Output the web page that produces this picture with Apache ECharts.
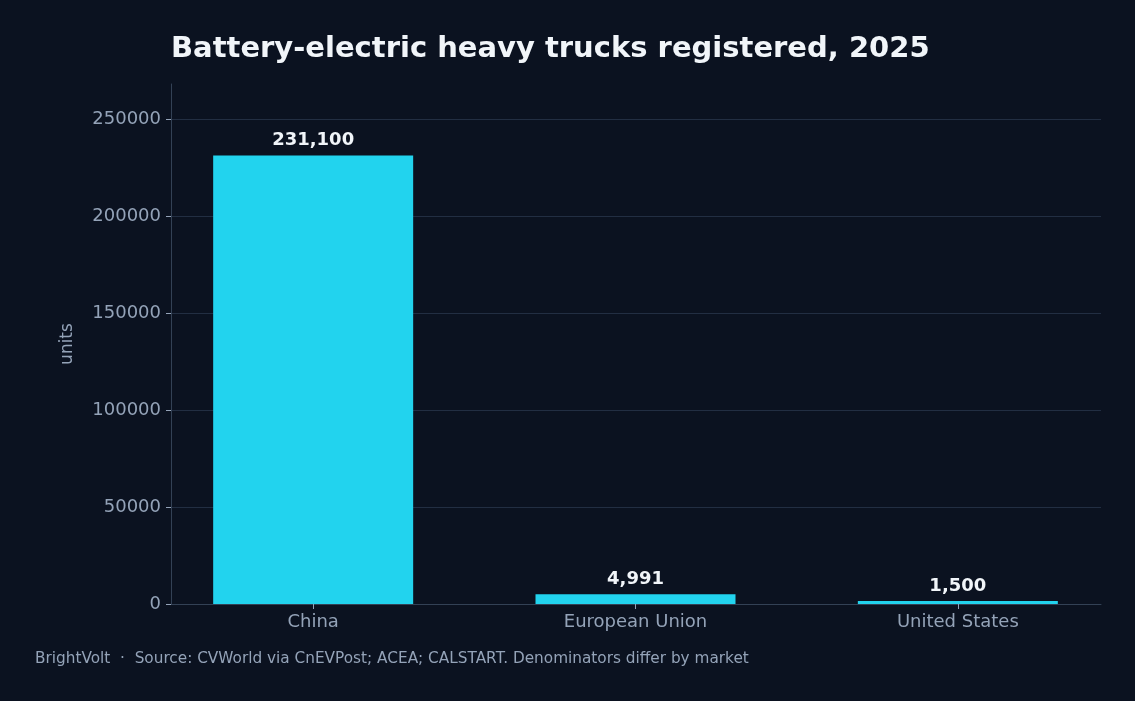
<!DOCTYPE html>
<html>
<head>
<meta charset="utf-8">
<script src="https://cdn.jsdelivr.net/npm/echarts@6/dist/echarts.min.js"></script>
<style>
html,body{margin:0;padding:0;background:#0b1220;}
#c{width:1135px;height:701px;}
</style>
</head>
<body>
<div id="c"></div>
<script>
const categories = ['China', 'European Union', 'United States'];
const values = [231100, 4991, 1500];
const yTicks = [0, 50000, 100000, 150000, 200000, 250000];
const axisMax = 268000;

const chart = echarts.init(document.getElementById('c'), null, {renderer: 'canvas'});
const font = 'DejaVu Sans';
const gridColors = yTicks.map(() => '#222e42').concat(['rgba(0,0,0,0)']);
chart.setOption({
  backgroundColor: '#0b1220',
  animation: false,
  title: {
    text: 'Battery-electric heavy trucks registered, 2025',
    left: 166, top: 30,
    textStyle: {color: '#f1f5f9', fontSize: 29, fontWeight: 'bold', fontFamily: font}
  },
  graphic: [{
    type: 'text', left: 35, top: 652,
    style: {text: 'BrightVolt  ·  Source: CVWorld via CnEVPost; ACEA; CALSTART. Denominators differ by market',
      fill: '#94a3b8', fontSize: 15.3, fontFamily: font}
  }],
  grid: [
    {left: 171, right: 34, top: 84, bottom: 97},
    {left: 152, right: 16, top: 84, bottom: 97}
  ],
  xAxis: [{
    gridIndex: 0, type: 'category', data: categories,
    axisLine: {lineStyle: {color: '#334155'}},
    axisTick: {show: false}, axisLabel: {show: false}
  }, {
    gridIndex: 1, type: 'category', data: categories,
    axisLine: {show: false},
    axisTick: {show: true, alignWithLabel: true, length: 5, lineStyle: {color: '#94a3b8'}},
    axisLabel: {color: '#94a3b8', fontSize: 18, fontFamily: font, margin: 9}
  }],
  yAxis: [{
    gridIndex: 0, type: 'value', min: 0, max: axisMax, interval: 50000,
    name: 'units', nameLocation: 'middle', nameGap: 95,
    nameTextStyle: {color: '#94a3b8', fontSize: 17, fontFamily: font},
    axisLine: {show: true, lineStyle: {color: '#334155'}},
    axisTick: {show: true, length: 5, lineStyle: {color: '#94a3b8'}},
    axisLabel: {color: '#94a3b8', fontSize: 18, fontFamily: font, margin: 10,
      showMaxLabel: false, formatter: v => String(v), padding: [2, 0, 0, 0]},
    splitLine: {show: true, lineStyle: {color: gridColors, width: 1}}
  }, {
    gridIndex: 1, type: 'value', min: 0, max: axisMax, interval: 50000,
    axisLine: {show: false}, axisTick: {show: false}, axisLabel: {show: false},
    splitLine: {show: false}
  }],
  series: [{
    type: 'bar', xAxisIndex: 1, yAxisIndex: 1, data: values, barWidth: 200,
    itemStyle: {color: '#22d3ee'},
    label: {show: true, position: 'top', distance: 6, color: '#f1f5f9', fontSize: 18,
      fontWeight: 'bold', fontFamily: font,
      formatter: p => p.value.toLocaleString('en-US')}
  }]
});
</script>
</body>
</html>
